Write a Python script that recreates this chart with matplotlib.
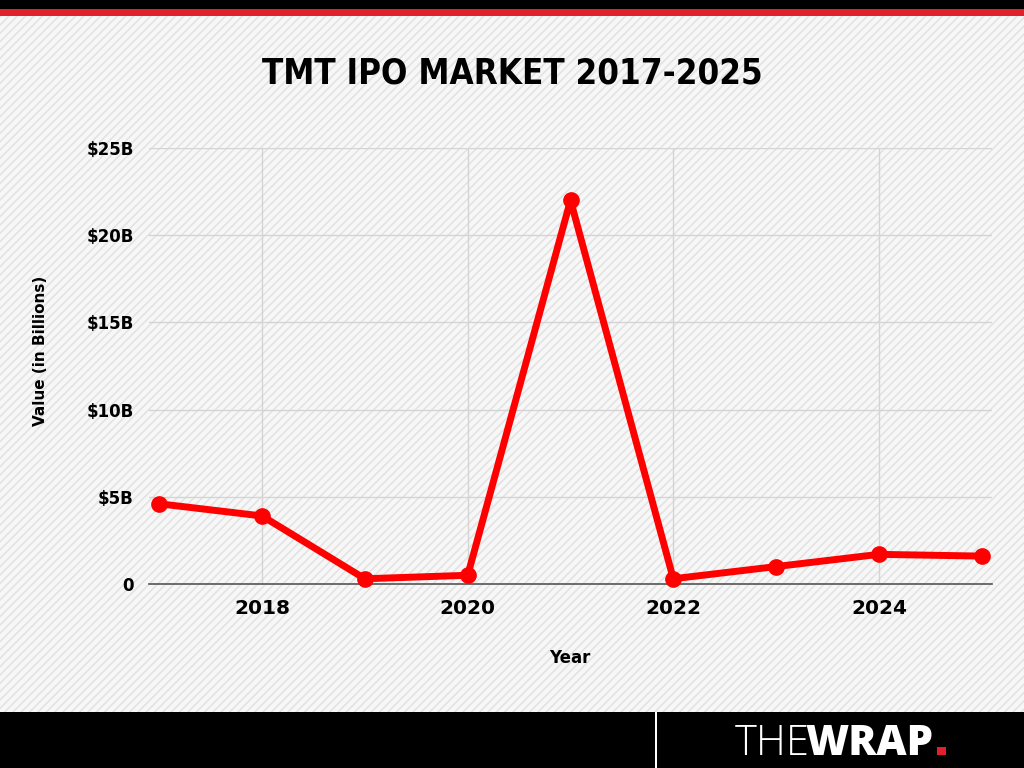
import numpy as np
import matplotlib
matplotlib.use('Agg')
import matplotlib.pyplot as plt
from matplotlib.patches import Rectangle

# datos
years = [2017, 2018, 2019, 2020, 2021, 2022, 2023, 2024, 2025]
values = [4.6, 3.9, 0.3, 0.5, 22.0, 0.3, 1.0, 1.7, 1.6]
yticks = [0, 5, 10, 15, 20, 25]
ytick_labels = ['0', '$5B', '$10B', '$15B', '$20B', '$25B']
xticks = [2018, 2020, 2022, 2024]

title = 'TMT IPO MARKET 2017-2025'
tick_font = 'DejaVu Sans'

fig = plt.figure(figsize=(10.24, 7.68), dpi=100)
fig.patch.set_facecolor('#f7f7f7')

# fondo rayado
plt.rcParams['hatch.linewidth'] = 1.2
bg = Rectangle((0, 0), 1, 1, transform=fig.transFigure, facecolor='#f7f7f7',
               edgecolor='#e3e3e3', hatch='////', lw=0, zorder=-10)
fig.add_artist(bg)

# barras superior e inferior
fig.add_artist(Rectangle((0, 1 - 9/768), 1, 9/768, transform=fig.transFigure,
                         facecolor='black', lw=0))
fig.add_artist(Rectangle((0, 1 - 16/768), 1, 7/768, transform=fig.transFigure,
                         facecolor='#e0202a', lw=0))
fig.add_artist(Rectangle((0, 0), 1, 56/768, transform=fig.transFigure,
                         facecolor='black', lw=0))
fig.add_artist(Rectangle((655/1024, 0), 2/1024, 56/768, transform=fig.transFigure,
                         facecolor='white', lw=0))

# logo
fig.text(735/1024, 13/768, 'THE', color='white', fontsize=30, fontweight='light',
         family='Open Sans', va='baseline', ha='left')
fig.text(805/1024, 13/768, 'WRAP', color='white', fontsize=30, fontweight='black',
         family='Open Sans', va='baseline', ha='left')
fig.add_artist(Rectangle((937/1024, 13/768), 9/1024, 8/768, transform=fig.transFigure,
                         facecolor='#e0202a', lw=0))

ax = fig.add_axes([149/1024, 1 - 584/768, (992 - 149)/1024, (584 - 148)/768])
ax.patch.set_alpha(0)

ax.plot(years, values, color='#ff0000', lw=5, marker='o', markersize=11,
        solid_capstyle='round', zorder=5, clip_on=False)

ax.set_xlim(2016.9, 2025.1)
ax.set_ylim(0, 25)
ax.set_yticks(yticks)
ax.set_yticklabels(ytick_labels)
ax.set_xticks(xticks)
ax.grid(True, color='#d4d4d4', lw=1)
ax.set_axisbelow(True)
for s in ['top', 'right', 'left']:
    ax.spines[s].set_visible(False)
ax.spines['bottom'].set_color('#555555')
ax.spines['bottom'].set_linewidth(1.2)
ax.tick_params(axis='y', length=0, pad=11)
ax.tick_params(axis='x', length=0, pad=11)
for lab in ax.get_yticklabels():
    lab.set_family(tick_font)
    lab.set_fontweight('bold')
    lab.set_fontsize(12)
for lab in ax.get_xticklabels():
    lab.set_family(tick_font)
    lab.set_fontweight('bold')
    lab.set_fontsize(14.5)

ax.set_xlabel('Year', family=tick_font, fontweight='bold', fontsize=12, va='center')
ax.xaxis.set_label_coords(0.4994, -0.17)
ax.set_ylabel('Value (in Billions)', family=tick_font, fontweight='bold', fontsize=11,
              va='center')
ax.yaxis.set_label_coords(-0.129, 0.534)

fig.text(0.5, 1 - 73/768, title, ha='center', va='center', fontsize=25,
         fontweight='bold', family='DejaVu Sans', fontstretch='condensed')

fig.savefig('out.png', dpi=100, facecolor=fig.get_facecolor())
